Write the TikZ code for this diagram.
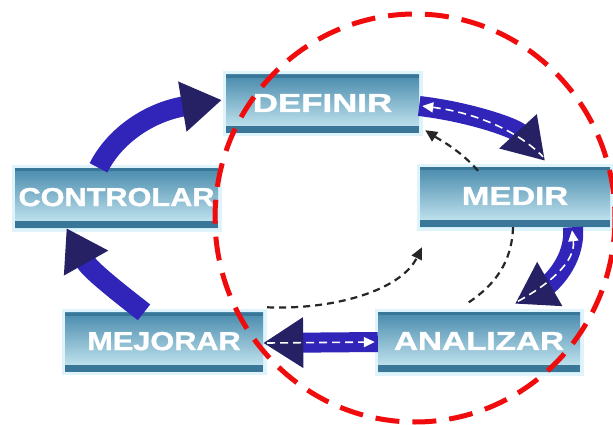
\documentclass[tikz,border=0pt]{standalone}
\usepackage{fontspec}
\setmainfont{Liberation Sans}
\usetikzlibrary{arrows.meta}
\definecolor{steeltop}{RGB}{72,138,172}
\definecolor{steeldark}{RGB}{58,118,152}
\definecolor{palebox}{RGB}{205,236,245}
\definecolor{glowc}{RGB}{222,243,250}
\definecolor{arrowblue}{RGB}{48,36,185}
\definecolor{arrowdark}{RGB}{38,32,100}
\definecolor{redc}{RGB}{240,12,12}
\newcommand\boxlabel[2][1.18]{\raisebox{2pt}{\scalebox{#1}[1]{\addfontfeature{FakeBold=1.2}#2}}}
\tikzset{
  stepbox/.style={rectangle, inner sep=0pt, top color=steeltop, bottom color=palebox,
    preaction={draw=glowc, line width=7pt},
    path picture={
      \fill[steeldark] (path picture bounding box.south west) rectangle ([yshift=7pt]path picture bounding box.south east);
      \fill[steeldark] (path picture bounding box.north west) rectangle ([yshift=-3pt]path picture bounding box.north east);
    },
    text=white, font=\bfseries\fontsize{26}{26}\selectfont},
  bigarrow/.style={draw=arrowblue, line width=20pt,
    -{Triangle[length=40pt,width=48pt,color=arrowdark]}},
  whitedash/.style={draw=white, line width=1.6pt, dash pattern=on 8pt off 5pt},
  blackdash/.style={draw=black!85, line width=2.2pt, dash pattern=on 7pt off 5pt,
    -{Triangle[length=12pt,width=11pt]}},
  blackdashplain/.style={draw=black!85, line width=2.2pt, dash pattern=on 7pt off 5pt},
  redring/.style={draw=redc, line width=5pt, dash pattern=on 24pt off 13pt}
}
\begin{document}
\begin{tikzpicture}[x=1pt,y=-1pt]
\useasboundingbox (0,0) rectangle (613,425);
\fill[white] (0,0) rectangle (613,425);

% boxes
\node[stepbox, minimum width=193pt, minimum height=58pt] (def) at (322.5,104) {\boxlabel[1.34]{DEFINIR}};
\node[stepbox, minimum width=190pt, minimum height=60pt] (med) at (515,197) {\boxlabel[1.27]{MEDIR}};
\node[stepbox, minimum width=203pt, minimum height=60pt] (con) at (116.5,198) {\boxlabel{CONTROLAR}};
\node[stepbox, minimum width=198pt, minimum height=59pt] (mej) at (164,342) {\boxlabel{MEJORAR}};
\node[stepbox, minimum width=202pt, minimum height=60pt] (ana) at (479,342) {\boxlabel[1.28]{ANALIZAR}};

% big blue arrows
\draw[bigarrow] ([xshift=-18pt]con.north) .. controls (115,135) and (150,112) .. ([xshift=-4pt,yshift=4pt]def.west);
\draw[bigarrow] ([xshift=-20pt]mej.north) .. controls (118,292) and (90,270) .. ([xshift=-50pt]con.south);
\draw[bigarrow] ([yshift=-2pt]def.east) .. controls (470,112) and (515,128) .. ([xshift=30pt,yshift=6pt]med.north);
\draw[bigarrow] ([xshift=58pt]med.south) .. controls (576,262) and (548,285) .. ([xshift=36pt,yshift=8pt]ana.north);
\draw[bigarrow] (ana.west) -- ([yshift=-1pt]mej.east);

% white dashed centre lines
\draw[whitedash, {Triangle[length=11pt,width=10pt,color=white]}-] ([xshift=3pt,yshift=-2pt]def.east) .. controls (470,112) and (515,128) .. ([xshift=28pt,yshift=10pt]med.north);
\draw[whitedash, {Triangle[length=11pt,width=10pt,color=white]}-] ([xshift=57pt,yshift=-3pt]med.south) .. controls (576,262) and (548,285) .. ([xshift=38pt,yshift=10pt]ana.north);
\draw[whitedash, -{Triangle[length=11pt,width=10pt,color=white]}] ([xshift=4pt,yshift=-1pt]mej.east) -- ([xshift=-3pt]ana.west);

% black dashed arrows
\draw[blackdash] ([xshift=-37pt,yshift=-4pt]med.north) .. controls (460,150) and (440,140) .. ([xshift=6pt,yshift=3pt]def.south east);
\draw[blackdashplain] ([xshift=-2pt]med.south) .. controls (512,262) and (495,285) .. ([xshift=-11pt,yshift=9pt]ana.north);
\draw[blackdash] ([xshift=4pt,yshift=5pt]mej.north east) .. controls (330,310) and (400,292) .. ([xshift=-93pt,yshift=-20pt]med.south);

% red dashed ring
\draw[redring] (415,218) ellipse [x radius=200, y radius=204];
\end{tikzpicture}
\end{document}
